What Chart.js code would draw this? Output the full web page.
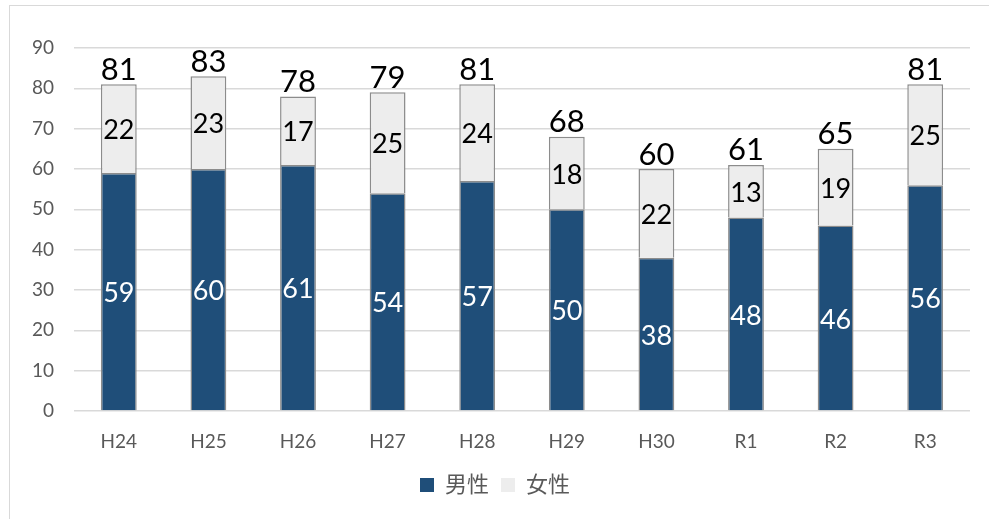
<!DOCTYPE html>
<html>
<head>
<meta charset="utf-8">
<script src="https://cdn.jsdelivr.net/npm/chart.js@4"></script>
<style>
    body { margin: 0; background: #fff; }
    #wrap { position: absolute; left: 0; top: 0; width: 989px; height: 519px; }
    #frame { position: absolute; left: 9px; top: 5px; width: 990px; height: 520px; border: 1px solid #d9d9d9; box-sizing: border-box; }
</style>
</head>
<body>
<div id="frame"></div>
<div id="wrap"><canvas id="myStackedChart" width="989" height="519"></canvas></div>
<script>
const years = ['H24', 'H25', 'H26', 'H27', 'H28', 'H29', 'H30', 'R1', 'R2', 'R3'];
const male = [59, 60, 61, 54, 57, 50, 38, 48, 46, 56];
const female = [22, 23, 17, 25, 24, 18, 22, 13, 19, 25];
const seriesNames = ['男性', '女性'];

const FONT = "Lato, 'Noto Sans CJK JP', sans-serif";

// values inside each segment plus the total on top of the stack
const valueLabels = {
    id: 'valueLabels',
    afterDatasetsDraw(chart) {
        const ctx = chart.ctx;
        ctx.save();
        ctx.textAlign = 'center';
        ctx.textBaseline = 'middle';
        ctx.font = '27px ' + FONT;
        chart.data.datasets.forEach((ds, di) => {
            const meta = chart.getDatasetMeta(di);
            ctx.fillStyle = di === 0 ? '#ffffff' : '#000000';
            meta.data.forEach((bar, i) => {
                const mid = (bar.y + bar.base) / 2;
                ctx.fillText(ds.data[i], bar.x, mid + 2);
            });
        });
        const top = chart.getDatasetMeta(1);
        ctx.fillStyle = '#000000';
        ctx.font = '31px ' + FONT;
        ctx.textBaseline = 'bottom';
        top.data.forEach((bar, i) => {
            ctx.fillText(male[i] + female[i], bar.x, bar.y + 1);
        });
        ctx.restore();
    }
};

const config = {
    type: 'bar',
    data: {
        labels: years,
        datasets: [{
            label: seriesNames[0],
            data: male,
            backgroundColor: '#1f4e79',
            borderColor: '#8c8c8c',
            borderWidth: 1.5,
            barPercentage: 0.4,
            categoryPercentage: 1
        },
        {
            label: seriesNames[1],
            data: female,
            backgroundColor: '#ededed',
            borderColor: '#8c8c8c',
            borderWidth: 1.5,
            barPercentage: 0.4,
            categoryPercentage: 1
        }]
    },
    options: {
        responsive: false,
        animation: false,
        layout: { padding: { left: 20, top: 48, right: 19, bottom: 13 } },
        plugins: {
            legend: {
                position: 'bottom',
                labels: {
                    boxWidth: 14,
                    boxHeight: 14,
                    padding: 12,
                    color: '#595959',
                    font: { family: FONT, size: 22 },
                    generateLabels(chart) {
                        return Chart.defaults.plugins.legend.labels.generateLabels(chart)
                            .map(l => Object.assign(l, { lineWidth: 0 }));
                    }
                }
            },
            tooltip: { enabled: false }
        },
        scales: {
            x: {
                stacked: true,
                grid: { display: false },
                border: { display: false },
                ticks: { color: '#595959', font: { family: FONT, size: 19 }, padding: 11 },
                afterFit(scale) { scale.height = 51; }
            },
            y: {
                stacked: true,
                min: 0,
                max: 90,
                ticks: { stepSize: 10, color: '#595959', font: { family: FONT, size: 19 }, padding: 20 },
                grid: { color: '#d9d9d9', lineWidth: 1.5, drawTicks: false },
                border: { display: false },
                afterFit(scale) { scale.width = 54; }
            }
        }
    },
    plugins: [valueLabels]
};

new Chart(document.querySelector('#myStackedChart'), config);
</script>
</body>
</html>
